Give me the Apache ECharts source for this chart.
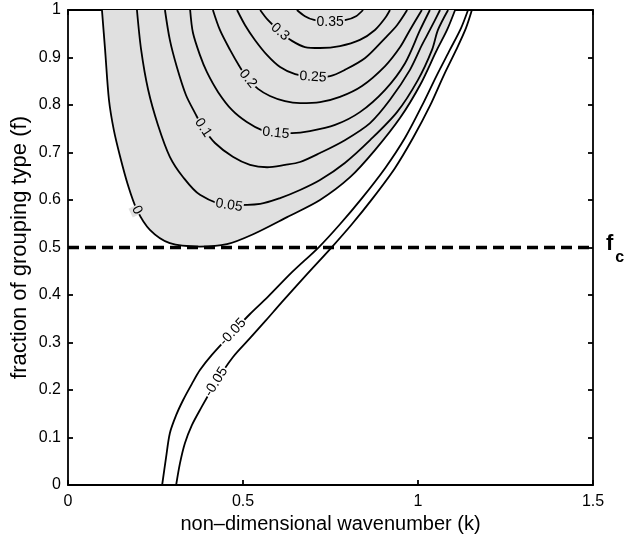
<!DOCTYPE html>
<html>
<head>
<meta charset="utf-8">
<script src="https://cdn.jsdelivr.net/npm/echarts@6/dist/echarts.min.js"></script>
<style>
  html, body { margin: 0; padding: 0; background: #fff; }
  #chart { width: 629px; height: 535px; }
</style>
</head>
<body>
<div id="chart"></div>
<script>
// Growth-rate contours over wavenumber k and grouping fraction f.
const kTicks = [0, 0.5, 1, 1.5];
const fTicks = [0, 0.1, 0.2, 0.3, 0.4, 0.5, 0.6, 0.7, 0.8, 0.9, 1];
const criticalF = 0.5;

// Each contour is a list of [k, f] points along the level curve.
const level0 = [
  [0.097, 1.0], [0.106, 0.916], [0.117, 0.811], [0.131, 0.747], [0.149, 0.691],
  [0.171, 0.632], [0.197, 0.579], [0.234, 0.537], [0.291, 0.509], [0.377, 0.502],
  [0.454, 0.507], [0.529, 0.528], [0.626, 0.564], [0.72, 0.6], [0.806, 0.648],
  [0.877, 0.705], [0.949, 0.773], [1.006, 0.842], [1.054, 0.916], [1.083, 0.958],
  [1.106, 1.0]
];
const level005 = [
  [0.197, 1.0], [0.209, 0.916], [0.229, 0.832], [0.257, 0.758], [0.291, 0.691],
  [0.329, 0.648], [0.377, 0.611], [0.46, 0.589], [0.549, 0.592], [0.606, 0.604],
  [0.663, 0.621], [0.72, 0.642], [0.791, 0.678], [0.863, 0.726], [0.94, 0.785],
  [1.0, 0.853], [1.04, 0.916], [1.057, 0.958], [1.086, 1.0]
];
const level01 = [
  [0.277, 1.0], [0.291, 0.937], [0.311, 0.88], [0.337, 0.821], [0.363, 0.783],
  [0.386, 0.752], [0.42, 0.72], [0.471, 0.691], [0.52, 0.674], [0.569, 0.669],
  [0.62, 0.674], [0.663, 0.68], [0.72, 0.699], [0.791, 0.726], [0.863, 0.762],
  [0.92, 0.811], [0.977, 0.874], [1.011, 0.926], [1.034, 0.958], [1.063, 1.0]
];
const level015 = [
  [0.349, 1.0], [0.357, 0.952], [0.377, 0.905], [0.397, 0.869], [0.429, 0.827],
  [0.469, 0.789], [0.511, 0.764], [0.554, 0.747], [0.594, 0.741], [0.64, 0.741],
  [0.691, 0.745], [0.763, 0.758], [0.834, 0.785], [0.906, 0.832], [0.963, 0.888],
  [1.006, 0.958], [1.034, 1.0]
];
const level02 = [
  [0.414, 1.0], [0.434, 0.958], [0.463, 0.916], [0.491, 0.88], [0.514, 0.855],
  [0.543, 0.834], [0.577, 0.819], [0.62, 0.808], [0.663, 0.804], [0.72, 0.806],
  [0.777, 0.817], [0.84, 0.84], [0.906, 0.882], [0.949, 0.922], [0.977, 0.958],
  [1.011, 1.0]
];
const level025 = [
  [0.483, 1.0], [0.506, 0.968], [0.534, 0.937], [0.569, 0.905], [0.606, 0.88],
  [0.649, 0.865], [0.7, 0.859], [0.749, 0.861], [0.791, 0.874], [0.849, 0.899],
  [0.906, 0.941], [0.94, 0.968], [0.969, 1.0]
];
const level03 = [
  [0.549, 1.0], [0.571, 0.979], [0.606, 0.954], [0.64, 0.935], [0.677, 0.922],
  [0.72, 0.92], [0.777, 0.924], [0.834, 0.937], [0.877, 0.958], [0.906, 0.983],
  [0.92, 1.0]
];
const level035 = [
  [0.654, 1.0], [0.677, 0.987], [0.703, 0.979], [0.749, 0.975], [0.794, 0.979],
  [0.823, 0.987], [0.843, 1.0]
];
const levelNeg005a = [
  [0.269, 0.0], [0.28, 0.057], [0.291, 0.109], [0.309, 0.147], [0.329, 0.179],
  [0.354, 0.213], [0.377, 0.242], [0.411, 0.274], [0.471, 0.322], [0.52, 0.36],
  [0.571, 0.396], [0.64, 0.448], [0.717, 0.501], [0.777, 0.549], [0.84, 0.604],
  [0.906, 0.667], [0.963, 0.731], [1.011, 0.798], [1.054, 0.863], [1.091, 0.916],
  [1.123, 0.962], [1.143, 1.0]
];
const levelNeg005b = [
  [0.309, 0.0], [0.32, 0.046], [0.334, 0.088], [0.354, 0.126], [0.377, 0.158],
  [0.423, 0.217], [0.471, 0.269], [0.52, 0.309], [0.566, 0.347], [0.611, 0.385],
  [0.683, 0.444], [0.754, 0.501], [0.811, 0.549], [0.871, 0.604], [0.934, 0.667],
  [0.986, 0.731], [1.034, 0.798], [1.074, 0.863], [1.109, 0.916], [1.137, 0.962],
  [1.154, 1.0]
];

const SHADE = '#e0e0e0';
const FONT = '"Liberation Sans", Arial, sans-serif';

// Inline contour labels: which curve, and which vertex they sit on.
const contourLabels = [
  { text: '0.35', line: level035, at: 3, bg: SHADE },
  { text: '0.3', line: level03, at: 2, bg: SHADE },
  { text: '0.25', line: level025, at: 6, bg: SHADE },
  { text: '0.2', line: level02, at: 4, bg: SHADE },
  { text: '0.15', line: level015, at: 8, bg: SHADE },
  { text: '0.1', line: level01, at: 5, bg: SHADE },
  { text: '0.05', line: level005, at: 7, bg: SHADE },
  { text: '0', line: level0, at: 6, bg: SHADE },
  { text: '-0.05', line: levelNeg005a, at: 8, bg: '#fff' },
  { text: '-0.05', line: levelNeg005b, at: 5, bg: '#fff' }
];

const contourLine = (pts, extra) => Object.assign({
  type: 'line',
  data: pts,
  symbol: 'none',
  smooth: 0.3,
  lineStyle: { color: '#000', width: 1.8 },
  z: 3,
  silent: true,
  animation: false
}, extra || {});

const kMin = kTicks[0], kMax = kTicks[kTicks.length - 1];
const fMin = fTicks[0], fMax = fTicks[fTicks.length - 1];

const axisCommon = {
  type: 'value',
  splitLine: { show: false },
  axisLine: { show: true, onZero: false, lineStyle: { color: '#000', width: 1.8 } },
  axisTick: { show: true, inside: true, length: 5, lineStyle: { color: '#000', width: 1.8 } }
};

const chart = echarts.init(document.getElementById('chart'));
chart.setOption({
  animation: false,
  grid: { left: 68, right: 36, top: 10, bottom: 50, containLabel: false, outerBoundsMode: 'none' },
  xAxis: [
    Object.assign({}, axisCommon, {
      position: 'bottom', min: kMin, max: kMax, interval: kTicks[1] - kTicks[0],
      axisLabel: { color: '#000', fontSize: 16, fontFamily: FONT, margin: 9 },
      name: 'non\u2013dimensional wavenumber (k)',
      nameLocation: 'middle', nameGap: 27,
      nameTextStyle: { color: '#000', fontSize: 20, fontFamily: FONT }
    }),
    Object.assign({}, axisCommon, {
      position: 'top', min: kMin, max: kMax, interval: kTicks[1] - kTicks[0],
      axisLabel: { show: false }
    })
  ],
  yAxis: [
    Object.assign({}, axisCommon, {
      position: 'left', min: fMin, max: fMax, interval: 0.1,
      axisLabel: {
        color: '#000', fontSize: 16, fontFamily: FONT, margin: 7,
        formatter: v => String(+v.toFixed(1))
      },
      name: 'fraction of grouping type (f)',
      nameLocation: 'middle', nameGap: 37, nameMoveOverlap: false,
      nameTextStyle: { color: '#000', fontSize: 22, fontFamily: FONT }
    }),
    Object.assign({}, axisCommon, {
      position: 'right', min: fMin, max: fMax, interval: 0.1,
      axisLabel: { show: false }
    })
  ],
  series: [
    // zero contour bounds the shaded (growing) region
    contourLine(level0, { areaStyle: { color: SHADE, opacity: 1, origin: 'end' }, z: 2 }),
    contourLine(level005),
    contourLine(level01),
    contourLine(level015),
    contourLine(level02),
    contourLine(level025),
    contourLine(level03),
    contourLine(level035),
    contourLine(levelNeg005a),
    contourLine(levelNeg005b),
    {
      type: 'line',
      data: [[kMin, criticalF], [kMax, criticalF]],
      symbol: 'none',
      silent: true,
      z: 4,
      clip: false,
      lineStyle: { color: '#000', width: 3.5, type: [11, 6] },
      endLabel: {
        show: true,
        distance: 13,
        offset: [0, 7],
        formatter: '{f|f}{c|c}',
        rich: {
          f: { fontSize: 22, lineHeight: 22, fontWeight: 'bold', fontFamily: FONT, color: '#000', padding: [0, 0, 11, 0], verticalAlign: 'bottom' },
          c: { fontSize: 16, lineHeight: 16, fontWeight: 'bold', fontFamily: FONT, color: '#000', padding: [0, 0, 0, 2], verticalAlign: 'bottom' }
        }
      }
    },
    {
      type: 'custom',
      coordinateSystem: 'cartesian2d',
      data: contourLabels.map(s => s.line[s.at]),
      encode: { x: 0, y: 1 },
      z: 6,
      silent: true,
      renderItem(params, api) {
        const s = contourLabels[params.dataIndex];
        const p = api.coord(s.line[s.at]);
        const a = api.coord(s.line[s.at - 1]);
        const b = api.coord(s.line[s.at + 1]);
        let ang = Math.atan2(b[1] - a[1], b[0] - a[0]);
        if (ang > Math.PI / 2) ang -= Math.PI;
        if (ang < -Math.PI / 2) ang += Math.PI;
        return {
          type: 'text',
          x: p[0], y: p[1],
          rotation: -ang,
          style: {
            text: s.text,
            fill: '#000',
            font: '14px ' + FONT,
            align: 'center',
            verticalAlign: 'middle',
            backgroundColor: s.bg,
            padding: [0, 1]
          }
        };
      }
    }
  ]
});
</script>
</body>
</html>
